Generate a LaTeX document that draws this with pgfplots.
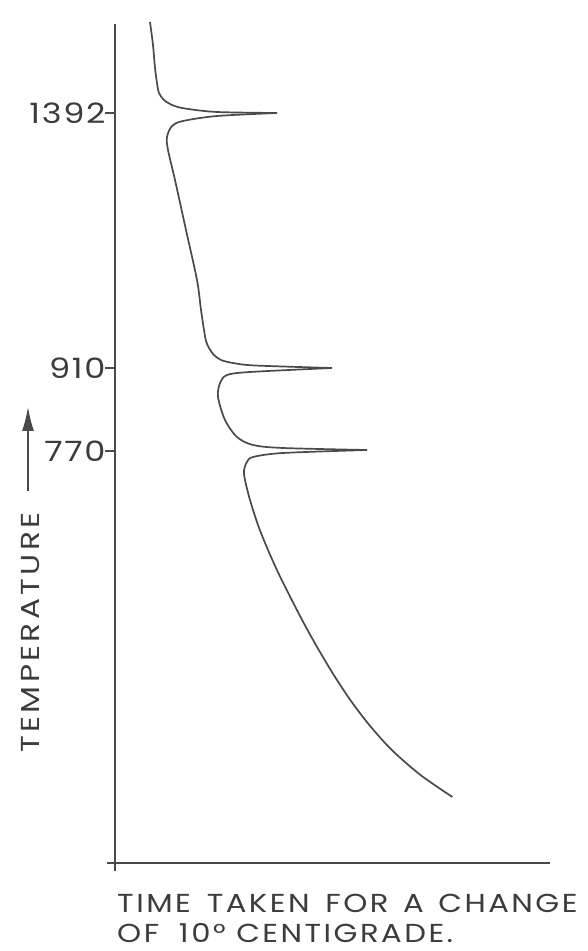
\documentclass[border=0pt]{standalone}
\usepackage{fontspec}
\setmainfont{Poppins}
\newfontfamily\labfont[LetterSpace=9.5,FakeStretch=1.18]{Poppins}
\newfontfamily\ylabfont[LetterSpace=13,FakeStretch=1.2]{Poppins}
\newfontfamily\tickfont[LetterSpace=6,FakeStretch=1.2]{Poppins}
\usepackage{pgfplots}
\pgfplotsset{compat=1.18}
\usetikzlibrary{arrows.meta}
\definecolor{ink}{HTML}{4A4A4A}
\definecolor{txt}{HTML}{3C3C3C}
\begin{document}
\begin{tikzpicture}[x=1pt,y=1pt]
% invisible frame for page size 587 x 951
\path (0,0) rectangle (587,951);
\begin{axis}[
  at={(115pt,88pt)}, anchor=origin,
  scale only axis,
  width=443pt, height=847pt,
  xmin=-8, xmax=435, ymin=-8, ymax=839,
  axis lines=middle,
  axis line style={-, ink, line width=1.4pt},
  clip=false,
  xtick=\empty,
  ytick={412,495,750},
  yticklabels={770,910,1392},
  ytick align=outside,
  major tick length=10pt,
  tick style={ink, line width=1.2pt},
  yticklabel style={font=\tickfont\fontsize{28}{30}\selectfont, text=txt, xshift=4pt},
  /pgf/number format/assume math mode=true,
]
\addplot[ink, line width=1.7pt, smooth, tension=0.5] coordinates {
(35,841) (38,818) (40,795) (42,780) (44,770) (49,763) (57,758) (70,754.5) (102,751) (162,750)
};
\addplot[ink, line width=1.7pt, smooth, tension=0.5] coordinates {
(162,750) (102,747) (68,742) (57,737) (52,726) (53,713) (60,683) (71,633) (82,583) (86,553) (89,533) (91,522) (94,515) (99,508) (106,503) (118,500) (140,497.5) (217,495)
};
\addplot[ink, line width=1.7pt, smooth, tension=0.5] coordinates {
(217,495) (135,491) (112,488) (105,480) (103,466) (110,443) (122,426) (138,418) (168,415) (252,413)
};
\addplot[ink, line width=1.7pt, smooth, tension=0.5] coordinates {
(252,413) (168,410) (138,406) (132,401) (129,393) (130,383) (135,363) (143,338) (153,313) (164.3,288) (176.8,263) (189.8,238) (203.8,213) (218.8,188) (235.3,163) (254.3,138) (276.8,113) (305.5,88) (337.4,66)
};
\node[anchor=base west, rotate=90, font=\ylabfont\fontsize{26}{28}\selectfont, text=txt, inner sep=0pt] at (axis cs:-75,110) {TEMPERATURE};
\draw[ink, line width=1.4pt, -{Latex[length=24pt,width=12pt]}] (axis cs:-87,372) -- (axis cs:-87,456);
\node[anchor=north west, align=left, font=\labfont\fontsize{26}{30}\selectfont, text=txt, inner sep=0pt, text depth=0pt] at (axis cs:2,-31) {TIME\hspace{0.2em} TAKEN\hspace{0.2em} FOR\hspace{0.15em} A\hspace{0.15em} CHANGE\\OF\hspace{0.35em} 10° CENTIGRADE.};
\end{axis}
\end{tikzpicture}
\end{document}
